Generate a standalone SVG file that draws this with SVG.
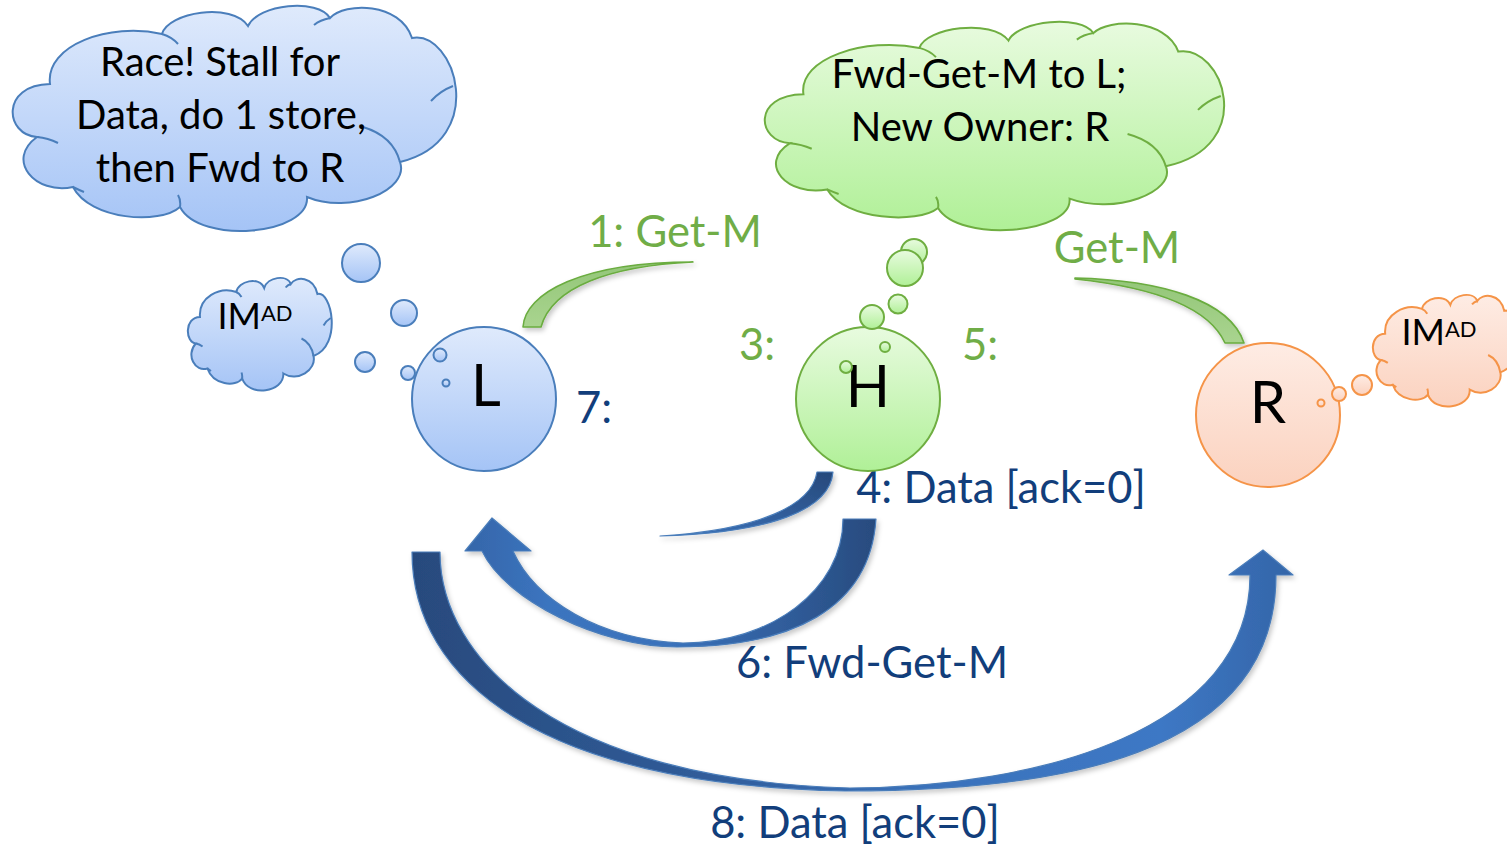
<svg xmlns="http://www.w3.org/2000/svg" xmlns:xlink="http://www.w3.org/1999/xlink" width="1507" height="846" viewBox="0 0 1507 846">
  <defs>
    <linearGradient id="gBlue" x1="0" y1="0" x2="0" y2="1">
      <stop offset="0" stop-color="#dfeafc"/>
      <stop offset="1" stop-color="#a5c4f6"/>
    </linearGradient>
    <linearGradient id="gGreen" x1="0" y1="0" x2="0" y2="1">
      <stop offset="0" stop-color="#e8fbdf"/>
      <stop offset="1" stop-color="#b0f097"/>
    </linearGradient>
    <linearGradient id="gOrange" x1="0" y1="0" x2="0" y2="1">
      <stop offset="0" stop-color="#feece4"/>
      <stop offset="1" stop-color="#fbd2bf"/>
    </linearGradient>
    <linearGradient id="gBand" x1="0" y1="0" x2="0" y2="1">
      <stop offset="0" stop-color="#93c678"/>
      <stop offset="1" stop-color="#a9d48f"/>
    </linearGradient>
    <linearGradient id="gArrow4" x1="1" y1="0" x2="0" y2="1">
      <stop offset="0" stop-color="#27497b"/>
      <stop offset="1" stop-color="#3c74bd"/>
    </linearGradient>
    <linearGradient id="gArrow6" x1="0" y1="0" x2="1" y2="0">
      <stop offset="0" stop-color="#3566a9"/>
      <stop offset="0.2" stop-color="#3b74bf"/>
      <stop offset="0.5" stop-color="#3a72bb"/>
      <stop offset="0.8" stop-color="#2f5b98"/>
      <stop offset="1" stop-color="#284b7e"/>
    </linearGradient>
    <linearGradient id="gArrow8" x1="0" y1="0" x2="1" y2="0">
      <stop offset="0" stop-color="#284a7d"/>
      <stop offset="0.3" stop-color="#2f5a96"/>
      <stop offset="0.6" stop-color="#3a72bc"/>
      <stop offset="0.85" stop-color="#3d78c5"/>
      <stop offset="1" stop-color="#3465a8"/>
    </linearGradient>
    <filter id="shadow" x="-10%" y="-10%" width="130%" height="140%">
      <feDropShadow dx="2" dy="3" stdDeviation="2.5" flood-color="#000" flood-opacity="0.22"/>
    </filter>
    <!-- cloud outline drawn in a 450 x 228 box -->
    <g id="cloudShape" transform="translate(-10,-6)">
      <path vector-effect="non-scaling-stroke" d="M50,84 C45,45 110,22 162,34 C168,12 232,2 248,26 C258,4 318,-2 330,18 C345,2 400,2 412,38 C455,30 490,140 400,162 C410,190 350,215 307,197 C310,235 200,245 180,207 C160,225 90,220 73,187 C35,195 5,160 37,137 C5,135 0,85 50,84 Z"/>
      <path vector-effect="non-scaling-stroke" fill="none" d="M162,34 Q172,37 178,44 M330,18 Q320,20 314,25 M453,86 Q440,91 431,101 M363,127 Q393,136 400,162 M180,207 Q181,200 178,195 M73,187 Q79,190 84,192 M37,137 Q48,138 58,143"/>
    </g>
    <style>
      .txt { font-family: Lato, "Liberation Sans", sans-serif; text-anchor: middle; }
      .cloudtxt { font-size: 40px; fill: #000; }
      .node { font-size: 58px; fill: #000; }
      .green { font-size: 43.5px; fill: #70ad47; }
      .blue { font-size: 43.5px; fill: #123e7b; }
      .imad { font-size: 36px; fill: #000; }
      .sup { font-size: 22px; }
      .bBlue { fill: url(#gBlue); stroke: #4a7ebb; stroke-width: 2; }
      .bGreen { fill: url(#gGreen); stroke: #6fae41; stroke-width: 2; }
      .bOrange { fill: url(#gOrange); stroke: #f59448; stroke-width: 2; }
      .blueArrow { stroke: #4a7dba; stroke-width: 1.2; stroke-linejoin: round; filter: url(#shadow); }
      .greenArrow { fill: url(#gBand); stroke: #6aac3f; stroke-width: 1.6; stroke-linejoin: round; filter: url(#shadow); }
    </style>
  </defs>

  <rect width="1507" height="846" fill="#ffffff"/>

  <!-- thought clouds -->
  <g id="cloud-race">
    <use xlink:href="#cloudShape" transform="translate(10,6)" class="bBlue"/>
    <text class="txt cloudtxt" x="220" y="76">Race! Stall for</text>
    <text class="txt cloudtxt" x="221" y="129">Data, do 1 store,</text>
    <text class="txt cloudtxt" x="220" y="182">then Fwd to R</text>
  </g>

  <g id="cloud-owner">
    <use xlink:href="#cloudShape" transform="translate(762,22) scale(1.0356,0.925)" class="bGreen"/>
    <text class="txt cloudtxt" x="979" y="88">Fwd-Get-M to L;</text>
    <text class="txt cloudtxt" x="980" y="141">New Owner: R</text>
  </g>

  <g id="cloud-imad-L">
    <use xlink:href="#cloudShape" transform="translate(187,278) scale(0.3244,0.5)" class="bBlue"/>
    <text class="txt imad" x="255" y="329">IM<tspan class="sup" dy="-8">AD</tspan></text>
  </g>

  <g id="cloud-imad-R">
    <use xlink:href="#cloudShape" transform="translate(1372,295) scale(0.329,0.4956)" class="bOrange"/>
    <text class="txt imad" x="1439" y="345">IM<tspan class="sup" dy="-8">AD</tspan></text>
  </g>

  <!-- connectors -->
  <g id="connectors">
    <path id="msg1" class="greenArrow" d="M523,327 C525,293 582,262 693,262 C610,266 552,287 541,327 Z"/>
    <path id="msg2" class="greenArrow" d="M1075,278 C1160,280 1230,300 1244,343 L1225,343 C1210,310 1160,288 1075,279 Z"/>
    <path id="msg4" class="blueArrow" fill="url(#gArrow4)" d="M817,472 L833,472 C830,510 770,533 660,536 C760,530 812,505 817,472 Z"/>
    <path id="msg6" class="blueArrow" fill="url(#gArrow6)" d="M843,519 L876,519 C870,610 790,647 677,647 C600,647 505,600 482,551 L465,551 L492,518 L531,551 L513,551 C535,600 600,640 683,643 C770,643 843,590 843,519 Z"/>
    <path id="msg8" class="blueArrow" fill="url(#gArrow8)" d="M412,552 L440,552 C440,660 560,780 850,788 C1040,787 1250,730 1250,575 L1229,575 L1263,550 L1293,575 L1276,575 C1276,760 1050,791 845,791 C540,785 412,680 412,552 Z"/>

    <text class="txt green" x="675" y="247">1: Get-M</text>
    <text class="txt green" x="1117" y="263">Get-M</text>
    <text class="txt green" x="757" y="360">3:</text>
    <text class="txt green" x="980" y="360">5:</text>
    <text class="txt blue" x="594" y="423">7:</text>
    <text class="txt blue" x="1001" y="503">4: Data [ack=0]</text>
    <text class="txt blue" x="872" y="678">6: Fwd-Get-M</text>
    <text class="txt blue" x="855" y="838">8: Data [ack=0]</text>
  </g>

  <!-- nodes -->
  <g id="node-L">
    <circle class="bBlue" cx="484" cy="399" r="72"/>
    <text class="txt node" x="486" y="406">L</text>
  </g>
  <g id="node-H">
    <circle class="bGreen" cx="868" cy="399" r="72"/>
    <text class="txt node" x="868" y="407">H</text>
  </g>
  <g id="node-R">
    <circle class="bOrange" cx="1268" cy="415" r="72"/>
    <text class="txt node" x="1268" y="423">R</text>
  </g>

  <!-- thought bubbles -->
  <g id="bubbles-L">
    <circle class="bBlue" cx="361" cy="263" r="19"/>
    <circle class="bBlue" cx="404" cy="313" r="13"/>
    <circle class="bBlue" cx="365" cy="362" r="10"/>
    <circle class="bBlue" cx="408" cy="373" r="7" stroke-width="1.6"/>
    <circle class="bBlue" cx="440" cy="355" r="6.5" stroke-width="1.6"/>
    <circle class="bBlue" cx="446" cy="383" r="3.5" stroke-width="1.4"/>
  </g>
  <g id="bubbles-H">
    <circle class="bGreen" cx="914" cy="252" r="13"/>
    <circle class="bGreen" cx="905" cy="268" r="18"/>
    <circle class="bGreen" cx="898" cy="304" r="9.5"/>
    <circle class="bGreen" cx="872" cy="317" r="12"/>
    <circle class="bGreen" cx="885" cy="347" r="5" stroke-width="1.6"/>
    <circle class="bGreen" cx="846" cy="367" r="6" stroke-width="1.6"/>
  </g>
  <g id="bubbles-R">
    <circle class="bOrange" cx="1362" cy="385" r="10"/>
    <circle class="bOrange" cx="1339" cy="394" r="7" stroke-width="1.6"/>
    <circle class="bOrange" cx="1321" cy="403" r="3.5" stroke-width="1.4"/>
  </g>
</svg>
